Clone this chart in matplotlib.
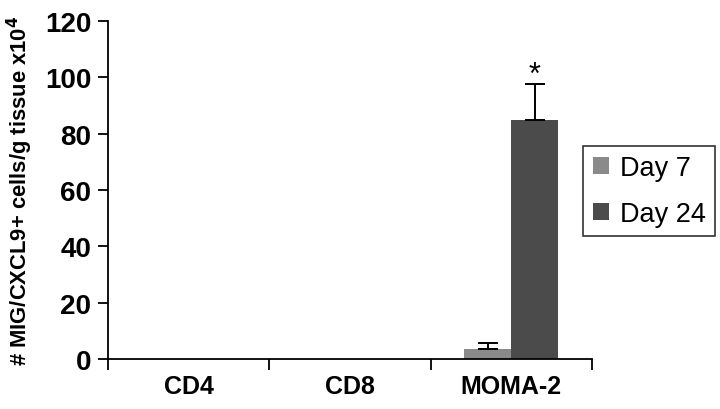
import numpy as np
import matplotlib.pyplot as plt

plt.rcParams["font.family"] = ["Liberation Sans", "DejaVu Sans"]

# dados
categorias = ["CD4", "CD8", "MOMA-2"]
dia7 = [0.0, 0.0, 3.5]
dia7_erro = [0.0, 0.0, 2.2]
dia24 = [0.0, 0.0, 84.8]
dia24_erro = [0.0, 0.0, 12.7]
rotulos_legenda = ["Day 7", "Day 24"]

fig = plt.figure(figsize=(7.2, 4.1), dpi=100)
ax = fig.add_axes([0.15, 0.122, 0.672, 0.824])

x = np.arange(len(categorias)) + 0.5
largura = 0.29


def barras(pos, valores, erros, cor, rotulo):
    valores = np.array(valores)
    erros = np.array(erros)
    ax.bar(pos, valores, largura, color=cor, label=rotulo)
    # só desenha barra de erro onde existe valor
    m = erros > 0
    ax.errorbar(pos[m], valores[m], yerr=[np.zeros(m.sum()), erros[m]],
                fmt="none", ecolor="black", elinewidth=1.4, capsize=7,
                capthick=1.4)


barras(x - largura / 2, dia7, dia7_erro, "#8a8a8a", rotulos_legenda[0])
barras(x + largura / 2, dia24, dia24_erro, "#4b4b4b", rotulos_legenda[1])

# asterisco de significância
ax.text(x[2] + largura / 2, dia24[2] + dia24_erro[2] + 3.3, "*", ha="center",
        va="center", fontsize=22)

ax.set_xlim(0, 3)
ax.set_ylim(0, 120)
ax.set_yticks(np.arange(0, 121, 20))
ax.set_xticks([0, 1, 2, 3])
ax.set_xticklabels([])
ax.set_xticks(x, minor=True)
ax.set_xticklabels(categorias, minor=True, fontsize=18, fontweight="bold")
ax.tick_params(axis="x", which="minor", length=0, pad=11)
ax.tick_params(axis="x", which="major", length=8, width=1.3, direction="out")
ax.tick_params(axis="y", length=7, width=1.3, direction="out", labelsize=20, pad=5)
for lbl in ax.get_yticklabels():
    lbl.set_fontweight("bold")

for lado in ["top", "right"]:
    ax.spines[lado].set_visible(False)
for lado in ["left", "bottom"]:
    ax.spines[lado].set_linewidth(1.3)

ax.set_ylabel("# MIG/CXCL9+ cells/g tissue x10$^{\\mathbf{4}}$", fontsize=15.8,
              fontweight="bold", labelpad=7)

leg = ax.legend(loc="center left", bbox_to_anchor=(0.982, 0.497), fontsize=19.5,
                frameon=True, fancybox=False, edgecolor="black",
                handlelength=0.6, handleheight=0.6, handletextpad=0.4,
                borderpad=0.35, labelspacing=0.72, borderaxespad=0.0)
leg.get_frame().set_linewidth(1.2)

fig.savefig("out.png", dpi=100)
